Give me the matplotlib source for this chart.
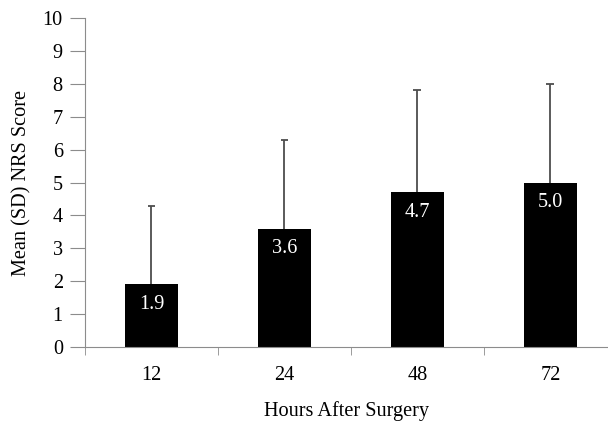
import numpy as np
import matplotlib.pyplot as plt

hours = ['12', '24', '48', '72']
mean_nrs = [1.9, 3.6, 4.7, 5.0]
sd_nrs = [2.4, 2.7, 3.1, 3.0]

plt.rcParams['font.family'] = ['Liberation Serif', 'DejaVu Serif']
fs = 14.6

fig = plt.figure(figsize=(6.08, 4.23), dpi=100)
ax = fig.add_axes([85 / 608, 1 - 347 / 423, 522 / 608, 329 / 423])

x = np.arange(len(hours))
means = np.array(mean_nrs)
tops = means + np.array(sd_nrs)
ax.bar(x, means, width=0.4, color='black', zorder=2)
# upper half of the SD bar only, hidden inside the bar below the mean
ax.vlines(x, means, tops, color='#4d4d4d', lw=1.3, zorder=1)
ax.hlines(tops, x - 0.03, x + 0.03, color='#4d4d4d', lw=1.3, zorder=1)

for xi, v in zip(x, mean_nrs):
    ax.text(xi, v - 0.6, f'{v:.1f}', color='white', ha='center',
            va='center', fontsize=fs)

ax.set_xlim(-0.5, 3.425)
ax.set_ylim(0, 10)
ax.set_yticks(range(0, 11))
ax.set_xticks(x)
ax.set_xticklabels(hours)
ax.set_xticks(np.arange(-0.5, 3.5, 1.0), minor=True)
ax.tick_params(axis='x', which='major', length=0, pad=14, labelsize=fs)
ax.tick_params(axis='x', which='minor', length=6, color='#8c8c8c')
ax.tick_params(axis='y', length=11, color='#8c8c8c', labelsize=fs, pad=5)

for side in ['top', 'right']:
    ax.spines[side].set_visible(False)
for side in ['left', 'bottom']:
    ax.spines[side].set_color('#8c8c8c')

ax.set_ylabel('Mean (SD) NRS Score', fontsize=fs, labelpad=8)
ax.set_xlabel('Hours After Surgery', fontsize=fs, labelpad=11)

fig.savefig('out.png', dpi=100)
